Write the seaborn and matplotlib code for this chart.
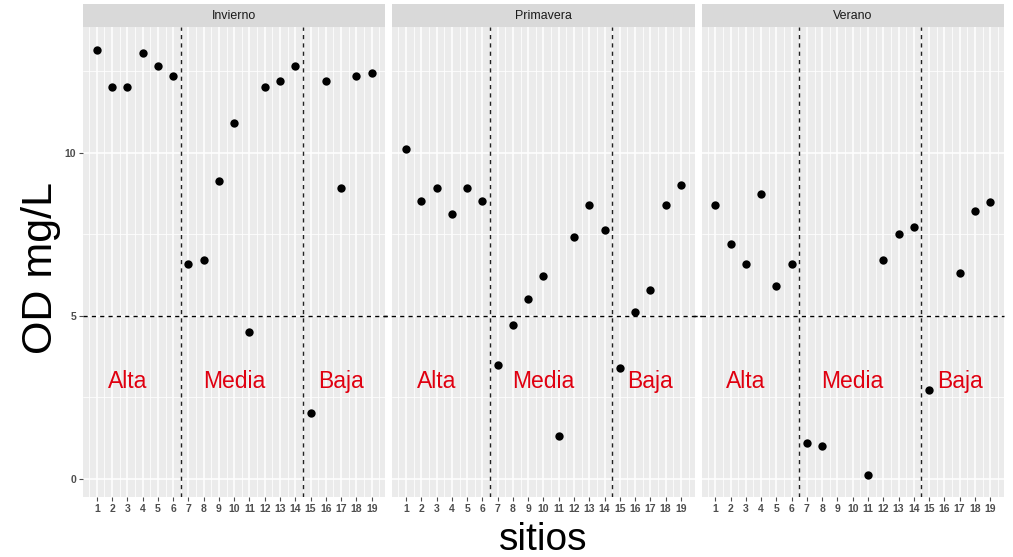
import numpy as np
import pandas as pd
import seaborn as sns
import matplotlib.pyplot as plt
from matplotlib.patches import Rectangle
from matplotlib.ticker import MultipleLocator

# Datos: oxígeno disuelto (mg/L) por sitio y temporada
sitios = list(range(1, 20))
temporadas = ["Invierno", "Primavera", "Verano"]
od_invierno = [13.16, 12.02, 12.02, 13.04, 12.64, 12.36, 6.6, 6.7, 9.14, 10.92,
               4.5, 12.02, 12.2, 12.67, 2.02, 12.2, 8.93, 12.36, 12.45]
od_primavera = [10.12, 8.53, 8.93, 8.13, 8.93, 8.53, 3.5, 4.72, 5.52, 6.23,
                1.32, 7.42, 8.4, 7.64, 3.4, 5.12, 5.8, 8.4, 9.02]
od_verano = [8.4, 7.2, 6.6, 8.74, 5.92, 6.6, 1.1, 1.0, np.nan, np.nan,
             0.12, 6.7, 7.5, 7.73, 2.73, np.nan, 6.32, 8.22, 8.5]

zonas = ["Alta", "Media", "Baja"]
zonas_x = [3, 10, 17]
zonas_y = [3, 3, 3]
cortes_x = [6.5, 14.5]
umbral_od = 5

df = pd.DataFrame({
    "Sitio": sitios * 3,
    "OD": od_invierno + od_primavera + od_verano,
    "Temporada": np.repeat(temporadas, len(sitios)),
})

sns.set_theme(style="darkgrid", rc={
    "axes.facecolor": "#EBEBEB",
    "grid.color": "white",
    "axes.edgecolor": "#EBEBEB",
    "xtick.color": "#4D4D4D",
    "ytick.color": "#4D4D4D",
    "xtick.bottom": True,
    "ytick.left": True,
    "xtick.major.size": 3,
    "ytick.major.size": 3,
    "xtick.major.width": 0.8,
    "ytick.major.width": 0.8,
})
plt.rcParams["font.family"] = ["Liberation Sans", "DejaVu Sans"]

g = sns.FacetGrid(df, col="Temporada", col_order=temporadas, sharey=True, sharex=True)
g.map_dataframe(sns.scatterplot, x="Sitio", y="OD", color="black", s=36, linewidth=0)
g.figure.set_size_inches(10.13, 5.57)
g.figure.subplots_adjust(left=0.082, right=0.991, bottom=0.108, top=0.9515, wspace=0.023)

n = len(temporadas)
for i, (ax, temporada) in enumerate(zip(g.axes.flat, temporadas)):
    ax.set_title("")
    ax.set_xlabel("")
    ax.set_ylabel("")
    ax.set_xlim(0.1, 19.9)
    ax.set_ylim(-0.55, 13.85)
    ax.set_xticks(sitios)
    ax.set_xticklabels([str(s) for s in sitios], fontsize=7.5, fontweight="bold")
    ax.xaxis.set_minor_locator(MultipleLocator(0.5))
    ax.set_yticks([0, 5, 10])
    ax.yaxis.set_minor_locator(MultipleLocator(2.5))
    ax.tick_params(axis="both", which="minor", length=0)
    ax.tick_params(axis="x", pad=2)
    ax.tick_params(axis="y", labelsize=7.5, pad=2)
    if i > 0:
        ax.tick_params(axis="y", which="both", length=0, labelleft=False)
    for lab in ax.get_yticklabels():
        lab.set_fontweight("bold")
    ax.grid(which="major", color="white", linewidth=1.1)
    ax.grid(which="minor", color="white", linewidth=0.55)
    for sp in ax.spines.values():
        sp.set_visible(False)

    for xc in cortes_x:
        ax.axvline(xc, color="#222222", linestyle=(0, (3, 3)), linewidth=1.0, zorder=1)
    # umbral de OD, cruzando también el hueco entre paneles
    ax.axhline(umbral_od, xmin=0 if i == 0 else -0.03, xmax=1 if i == n - 1 else 1.03,
               color="black", linestyle=(0, (3, 3)), linewidth=1.0, clip_on=False, zorder=1)
    for nombre, xz, yz in zip(zonas, zonas_x, zonas_y):
        ax.text(xz, yz, nombre, color="#E00010", fontsize=16.5, ha="center", va="center")

    # franja del panel
    ax.add_patch(Rectangle((0, 1), 1, 0.049, transform=ax.transAxes, facecolor="#D9D9D9",
                           edgecolor="none", clip_on=False))
    ax.text(0.5, 1.0245, temporada, transform=ax.transAxes, ha="center", va="center",
            fontsize=8.9, color="#1A1A1A")

g.figure.text(0.536, 0.0126, "sitios", ha="center", va="baseline", fontsize=28, color="black")
g.figure.text(0.040, 0.519, "OD mg/L", ha="center", va="center", rotation=90,
              fontsize=31, color="black")

g.figure.savefig("out.png", dpi=100)
